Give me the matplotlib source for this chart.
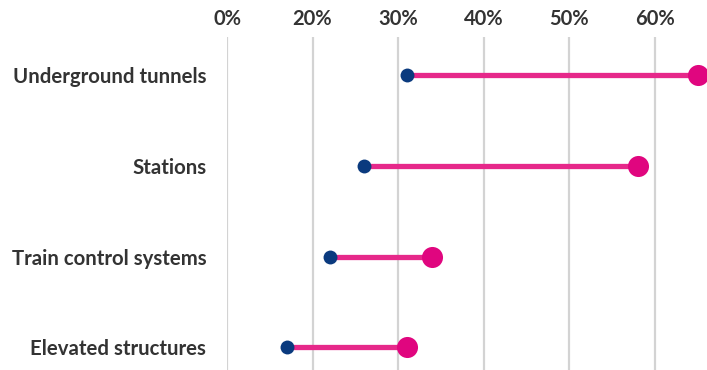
import matplotlib.pyplot as plt

categories = ["Underground tunnels", "Stations", "Train control systems", "Elevated structures"]
startValues = [31, 26, 22, 17]
endValues = [65, 58, 34, 31]
tickValues = [10, 20, 30, 40, 50, 60]
tickLabels = ["0%", "20%", "30%", "40%", "50%", "60%"]

navy = "#0A3A7E"
pink = "#E6288A"
pinkDot = "#E0067F"
gridColor = "#D3D3D3"
textColor = "#333333"

plt.rcParams['font.family'] = ['Lato', 'DejaVu Sans']

fig = plt.figure(figsize=(7.07, 3.70), dpi=100)
ax = fig.add_axes([227/707, 0, 1 - 227/707, 333/370])

ys = list(range(len(categories)))

for x in tickValues:
    ax.axvline(x, color=gridColor, lw=1.6, zorder=0)

ax.hlines(ys, startValues, endValues, color=pink, lw=3.8, zorder=2)
ax.scatter(startValues, ys, s=100, color=navy, zorder=3, linewidths=0)
ax.scatter(endValues, ys, s=230, color=pinkDot, zorder=4, linewidths=0, clip_on=False)

ax.set_xlim(10, 66.1)
ax.set_ylim(3.25, -0.42)

ax.xaxis.tick_top()
ax.set_xticks(tickValues)
ax.set_xticklabels(tickLabels, fontsize=14.5, fontweight="bold", color=textColor)
ax.set_yticks(ys)
ax.set_yticklabels(categories, fontsize=14.7, fontweight="bold", color=textColor)
ax.tick_params(axis="x", length=0, pad=6)
ax.tick_params(axis="y", length=0, pad=15)

for s in ax.spines.values():
    s.set_visible(False)

fig.savefig("out.png", dpi=100)
